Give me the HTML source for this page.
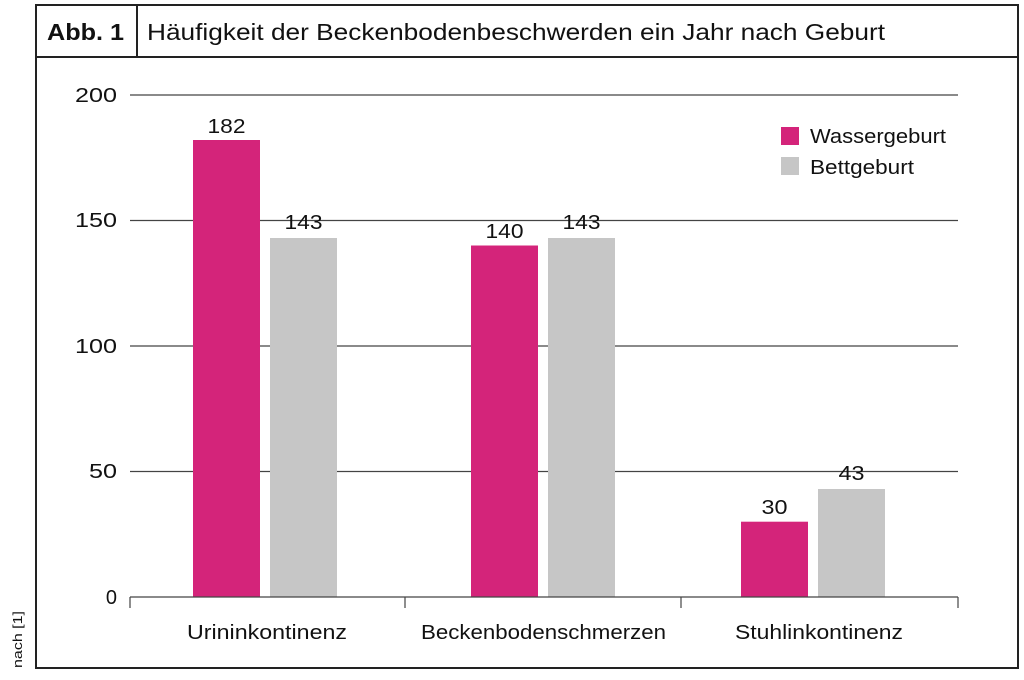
<!DOCTYPE html>
<html><head><meta charset="utf-8"><style>
body{margin:0;background:#fff;width:1024px;height:675px;overflow:hidden}
svg text{font-family:"Liberation Sans",sans-serif;fill:#111}
</style></head><body>
<svg width="1024" height="675" xmlns="http://www.w3.org/2000/svg">
<rect x="36" y="5" width="982" height="663" fill="none" stroke="#222" stroke-width="2"/>
<line x1="36" y1="57" x2="1018" y2="57" stroke="#222" stroke-width="2"/>
<line x1="137" y1="5" x2="137" y2="57" stroke="#222" stroke-width="2"/>
<text x="47" y="40" font-size="23" font-weight="bold" textLength="77" lengthAdjust="spacingAndGlyphs">Abb. 1</text>
<text x="147" y="40" font-size="23" textLength="738" lengthAdjust="spacingAndGlyphs">Häufigkeit der Beckenbodenbeschwerden ein Jahr nach Geburt</text>
<g stroke="#444" stroke-width="1.2">
<line x1="130" y1="95" x2="958" y2="95"/>
<line x1="130" y1="220.5" x2="958" y2="220.5"/>
<line x1="130" y1="346" x2="958" y2="346"/>
<line x1="130" y1="471.5" x2="958" y2="471.5"/>
</g>
<g font-size="20" text-anchor="end">
<text x="117" y="102" textLength="42" lengthAdjust="spacingAndGlyphs">200</text><text x="117" y="227" textLength="42" lengthAdjust="spacingAndGlyphs">150</text><text x="117" y="353" textLength="42" lengthAdjust="spacingAndGlyphs">100</text><text x="117" y="478" textLength="28" lengthAdjust="spacingAndGlyphs">50</text><text x="117" y="604">0</text>
</g>
<rect x="193" y="140" width="67" height="457" fill="#d4247a"/>
<rect x="270" y="238" width="67" height="359" fill="#c6c6c6"/>
<rect x="471" y="245.5" width="67" height="351.5" fill="#d4247a"/>
<rect x="548" y="238" width="67" height="359" fill="#c6c6c6"/>
<rect x="741" y="521.7" width="67" height="75.3" fill="#d4247a"/>
<rect x="818" y="489" width="67" height="108" fill="#c6c6c6"/>
<g stroke="#444" stroke-width="1.2">
<line x1="130" y1="597" x2="958" y2="597"/>
<line x1="130" y1="597" x2="130" y2="608"/><line x1="405" y1="597" x2="405" y2="608"/>
<line x1="681" y1="597" x2="681" y2="608"/><line x1="958" y1="597" x2="958" y2="608"/>
</g>
<g font-size="20" text-anchor="middle" lengthAdjust="spacingAndGlyphs">
<text x="226.5" y="133" textLength="38" lengthAdjust="spacingAndGlyphs">182</text><text x="303.5" y="229" textLength="38" lengthAdjust="spacingAndGlyphs">143</text>
<text x="504.5" y="238" textLength="38" lengthAdjust="spacingAndGlyphs">140</text><text x="581.5" y="229" textLength="38" lengthAdjust="spacingAndGlyphs">143</text>
<text x="774.5" y="514" textLength="26" lengthAdjust="spacingAndGlyphs">30</text><text x="851.5" y="480" textLength="26" lengthAdjust="spacingAndGlyphs">43</text>
</g>
<g font-size="20">
<text x="187" y="639" textLength="160" lengthAdjust="spacingAndGlyphs">Urininkontinenz</text>
<text x="421" y="639" textLength="245" lengthAdjust="spacingAndGlyphs">Beckenbodenschmerzen</text>
<text x="735" y="639" textLength="168" lengthAdjust="spacingAndGlyphs">Stuhlinkontinenz</text>
</g>
<rect x="781" y="127" width="18" height="18" fill="#d4247a"/>
<rect x="781" y="157" width="18" height="18" fill="#c6c6c6"/>
<text x="810" y="143" font-size="20" textLength="136" lengthAdjust="spacingAndGlyphs">Wassergeburt</text>
<text x="810" y="174" font-size="20" textLength="104" lengthAdjust="spacingAndGlyphs">Bettgeburt</text>
<text transform="translate(22,668) rotate(-90)" font-size="13" textLength="57" lengthAdjust="spacingAndGlyphs">nach [1]</text>
</svg>
</body></html>
